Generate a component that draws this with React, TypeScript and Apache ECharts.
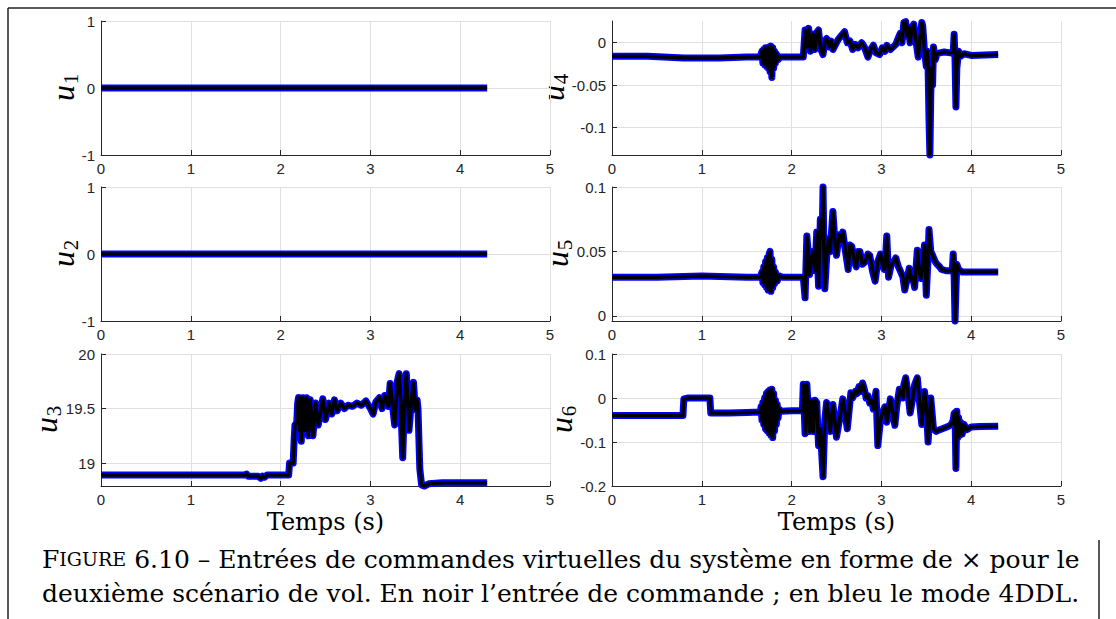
import React, { useEffect, useRef } from 'react';
import * as echarts from 'echarts';

const u1Data: number[][] = [[0, 0], [4.3, 0]];
const u2Data: number[][] = [[0, 0], [4.3, 0]];

const u3Data: number[][] = [
  [0, 18.89], [0.5, 18.89], [1.0, 18.89], [1.6, 18.89], [1.62, 18.9], [1.64, 18.88], [1.75, 18.88], [1.78, 18.86],
  [1.8, 18.88], [1.82, 18.87], [1.85, 18.89], [2.09, 18.89], [2.1, 19.0], [2.14, 19.0], [2.15, 19.2], [2.16, 19.35],
  [2.18, 19.37], [2.19, 19.55], [2.2, 19.6], [2.21, 19.3], [2.22, 19.6], [2.23, 19.2], [2.25, 19.6], [2.27, 19.3],
  [2.29, 19.6], [2.31, 19.25], [2.33, 19.58], [2.36, 19.25], [2.39, 19.55], [2.42, 19.35], [2.47, 19.59], [2.5, 19.4],
  [2.54, 19.55], [2.57, 19.45], [2.6, 19.58], [2.63, 19.48], [2.67, 19.55], [2.71, 19.5], [2.75, 19.53], [2.8, 19.52],
  [2.85, 19.55], [2.9, 19.53], [2.95, 19.57], [3.0, 19.5], [3.03, 19.45], [3.06, 19.56], [3.1, 19.6], [3.13, 19.5],
  [3.16, 19.62], [3.2, 19.52], [3.22, 19.73], [3.25, 19.5], [3.27, 19.35], [3.3, 19.75], [3.32, 19.82], [3.34, 19.5],
  [3.36, 19.05], [3.38, 19.6], [3.4, 19.82], [3.42, 19.5], [3.43, 19.3], [3.46, 19.6], [3.48, 19.74], [3.5, 19.49],
  [3.52, 19.58], [3.53, 19.5], [3.55, 18.95], [3.57, 18.8], [3.6, 18.79], [3.65, 18.81], [3.8, 18.82], [4.3, 18.82],
];

const u4Data: number[][] = [
  [0, -0.016], [0.4, -0.016], [0.8, -0.018], [1.2, -0.018], [1.5, -0.017], [1.65, -0.017],
  [1.67, -0.01], [1.68, -0.024], [1.69, -0.008], [1.7, -0.026], [1.71, -0.006], [1.72, -0.028], [1.73, -0.006],
  [1.74, -0.03], [1.75, -0.005], [1.76, -0.034], [1.77, -0.004], [1.78, -0.041], [1.79, -0.006], [1.8, -0.03],
  [1.81, -0.01], [1.82, -0.024], [1.83, -0.013], [1.85, -0.02], [1.87, -0.017], [2.13, -0.017],
  [2.15, 0.015], [2.17, -0.005], [2.19, 0.017], [2.21, -0.01], [2.24, 0.01], [2.26, -0.008], [2.28, 0.012],
  [2.3, 0.015], [2.32, -0.006], [2.35, -0.014], [2.37, 0.002], [2.39, 0.005], [2.42, -0.005], [2.44, 0.002],
  [2.46, -0.008], [2.49, -0.002], [2.52, 0.004], [2.55, 0.008], [2.59, 0.013], [2.62, 0.0], [2.65, 0.002],
  [2.68, -0.008], [2.71, -0.002], [2.74, -0.006], [2.78, 0.0], [2.81, -0.005], [2.85, -0.017], [2.88, -0.008],
  [2.91, -0.003], [2.94, -0.012], [2.98, -0.014], [3.01, -0.006], [3.04, -0.01], [3.06, -0.003], [3.1, -0.008],
  [3.13, -0.005], [3.16, -0.002], [3.19, 0.006], [3.21, 0.011], [3.23, 0.0], [3.25, 0.024], [3.27, 0.025],
  [3.29, 0.008], [3.3, 0.018], [3.32, 0.0], [3.34, 0.018], [3.36, 0.022], [3.38, 0.006], [3.41, -0.017],
  [3.43, 0.005], [3.45, 0.024], [3.46, 0.02], [3.48, -0.01], [3.5, -0.028], [3.51, -0.01], [3.52, -0.03],
  [3.53, -0.09], [3.54, -0.1327], [3.55, -0.06], [3.56, -0.03], [3.57, -0.05], [3.58, -0.005], [3.6, -0.02],
  [3.62, -0.013], [3.65, -0.012], [3.7, -0.011], [3.77, -0.012], [3.8, -0.011], [3.81, 0.01], [3.82, -0.02],
  [3.83, -0.076], [3.84, -0.03], [3.86, -0.01], [3.88, -0.016], [3.92, -0.013], [4.0, -0.015], [4.3, -0.014],
];

const u5Data: number[][] = [
  [0, 0.03], [0.5, 0.03], [1.0, 0.031], [1.5, 0.03], [1.65, 0.03], [1.67, 0.034], [1.68, 0.026], [1.69, 0.038],
  [1.7, 0.024], [1.71, 0.042], [1.72, 0.022], [1.73, 0.045], [1.74, 0.02], [1.75, 0.048], [1.76, 0.05], [1.77, 0.019],
  [1.78, 0.044], [1.79, 0.022], [1.8, 0.038], [1.81, 0.025], [1.82, 0.034], [1.84, 0.027], [1.86, 0.031], [1.9, 0.03],
  [2.13, 0.03], [2.15, 0.014], [2.17, 0.062], [2.19, 0.045], [2.2, 0.032], [2.22, 0.044], [2.24, 0.05], [2.26, 0.035],
  [2.28, 0.065], [2.3, 0.023], [2.32, 0.075], [2.34, 0.06], [2.35, 0.1], [2.36, 0.05], [2.37, 0.021], [2.39, 0.045],
  [2.41, 0.06], [2.43, 0.05], [2.46, 0.081], [2.48, 0.06], [2.5, 0.047], [2.53, 0.063], [2.55, 0.058], [2.57, 0.065],
  [2.6, 0.05], [2.63, 0.036], [2.65, 0.055], [2.67, 0.054], [2.7, 0.042], [2.72, 0.038], [2.74, 0.05], [2.76, 0.05],
  [2.79, 0.04], [2.82, 0.042], [2.85, 0.048], [2.87, 0.047], [2.9, 0.035], [2.93, 0.027], [2.96, 0.042], [2.99, 0.048],
  [3.01, 0.04], [3.03, 0.036], [3.05, 0.05], [3.06, 0.062], [3.08, 0.03], [3.11, 0.04], [3.14, 0.042], [3.16, 0.045],
  [3.19, 0.038], [3.21, 0.035], [3.24, 0.03], [3.26, 0.02], [3.29, 0.03], [3.31, 0.037], [3.33, 0.028], [3.35, 0.03],
  [3.37, 0.022], [3.4, 0.051], [3.42, 0.035], [3.44, 0.029], [3.46, 0.04], [3.48, 0.055], [3.5, 0.016], [3.52, 0.045],
  [3.53, 0.067], [3.55, 0.05], [3.57, 0.047], [3.6, 0.042], [3.62, 0.04], [3.65, 0.038], [3.67, 0.036], [3.72, 0.035],
  [3.77, 0.035], [3.79, 0.036], [3.8, 0.048], [3.81, 0.03], [3.82, -0.004], [3.83, 0.02], [3.84, 0.04], [3.86, 0.036],
  [3.9, 0.034], [4.0, 0.034], [4.3, 0.034],
];

const u6Data: number[][] = [
  [0, -0.04], [0.4, -0.04], [0.79, -0.04], [0.8, -0.002], [0.85, 0.0], [1.0, 0.0], [1.09, 0.0], [1.1, -0.034],
  [1.3, -0.034], [1.5, -0.033], [1.65, -0.032], [1.66, -0.02], [1.67, -0.05], [1.68, -0.01], [1.69, -0.06], [1.7, 0.0],
  [1.71, -0.07], [1.72, 0.01], [1.73, -0.075], [1.74, 0.015], [1.75, -0.08], [1.76, 0.018], [1.77, -0.085], [1.78, 0.02],
  [1.79, -0.09], [1.8, 0.01], [1.81, -0.075], [1.82, -0.005], [1.83, -0.06], [1.84, -0.015], [1.85, -0.045], [1.86, -0.025],
  [1.88, -0.03], [2.0, -0.029], [2.12, -0.029], [2.13, 0.031], [2.15, -0.081], [2.17, 0.031], [2.2, -0.076], [2.22, -0.007],
  [2.24, -0.076], [2.26, -0.005], [2.28, -0.01], [2.3, -0.108], [2.32, -0.07], [2.35, -0.179], [2.37, -0.05], [2.39, -0.01],
  [2.41, -0.04], [2.43, -0.076], [2.46, -0.015], [2.48, -0.05], [2.5, -0.089], [2.54, -0.042], [2.57, -0.002], [2.6, -0.04],
  [2.62, -0.07], [2.64, -0.03], [2.66, 0.012], [2.68, 0.0], [2.71, 0.015], [2.73, 0.01], [2.75, 0.026], [2.77, 0.015],
  [2.79, 0.034], [2.81, 0.02], [2.83, 0.0], [2.85, 0.005], [2.87, -0.012], [2.89, -0.005], [2.91, -0.025], [2.94, 0.015],
  [2.96, -0.108], [2.99, -0.05], [3.02, -0.029], [3.04, -0.02], [3.06, -0.055], [3.08, -0.03], [3.1, -0.002], [3.12, -0.03],
  [3.15, -0.062], [3.17, -0.02], [3.2, 0.02], [3.22, 0.01], [3.24, 0.0], [3.25, 0.03], [3.27, 0.046], [3.29, 0.02],
  [3.32, -0.034], [3.35, 0.0], [3.37, 0.03], [3.4, 0.046], [3.42, 0.0], [3.45, -0.06], [3.48, 0.015], [3.5, -0.02],
  [3.52, -0.1], [3.55, 0.0], [3.58, -0.07], [3.61, -0.076], [3.65, -0.072], [3.7, -0.068], [3.75, -0.064], [3.78, -0.06],
  [3.8, -0.05], [3.81, -0.035], [3.82, -0.033], [3.83, -0.16], [3.84, -0.03], [3.85, -0.09], [3.86, -0.045], [3.87, -0.085],
  [3.88, -0.055], [3.9, -0.082], [3.92, -0.06], [3.95, -0.072], [4.0, -0.066], [4.1, -0.065], [4.3, -0.064],
];

const seriesData = [u1Data, u4Data, u2Data, u5Data, u3Data, u6Data];
const yMins = [-1, -0.1327, -1, -0.004, 18.79, -0.2];
const yMaxs = [1, 0.0257, 1, 0.1, 20, 0.1];
const yTicks = [[-1, 0, 1], [-0.1, -0.05, 0], [-1, 0, 1], [0, 0.05, 0.1], [19, 19.5, 20], [-0.2, -0.1, 0, 0.1]];
const ySubscripts = ['1', '4', '2', '5', '3', '6'];
const xTicksMin = 0;
const xTicksMax = 5;
const xTickStep = 1;
const xTitle = 'Temps (s)';
const captionLine1 = ' 6.10 – Entrées de commandes virtuelles du système en forme de × pour le';
const captionLine2 = 'deuxième scénario de vol. En noir l’entrée de commande ; en bleu le mode 4DDL.';

const INK = '#262626';

export default function App() {
  const ref = useRef<HTMLDivElement>(null);
  useEffect(() => {
    if (!ref.current) return;
    const chart = echarts.init(ref.current, undefined, { renderer: 'svg' });
    const colLeft = [101, 612];
    const rowTop = [21, 187, 354];
    const rowH = [134, 134, 132];
    const labelX = [63, 553, 63, 557, 46, 561];
    const W = 449;
    const grids: any[] = [];
    const xAxes: any[] = [];
    const yAxes: any[] = [];
    const series: any[] = [];
    const graphics: any[] = [];
    for (let i = 0; i < 6; i++) {
      const r = Math.floor(i / 2);
      const c = i % 2;
      grids.push({ left: colLeft[c], top: rowTop[r], width: W, height: rowH[r] });
      xAxes.push({
        type: 'value', gridIndex: i, min: xTicksMin, max: xTicksMax, interval: xTickStep,
        axisLine: { show: true, onZero: false, lineStyle: { color: INK, width: 1 } },
        axisTick: { show: true, inside: true, length: 5, lineStyle: { color: INK } },
        axisLabel: { color: INK, fontSize: 15, fontFamily: 'Liberation Sans, Arial, sans-serif', margin: 6 },
        splitLine: { show: true, lineStyle: { color: '#e0e0e0', width: 1 } },
      });
      yAxes.push({
        type: 'value', gridIndex: i, min: yMins[i], max: yMaxs[i],
        axisLine: { show: true, onZero: false, lineStyle: { color: INK, width: 1 } },
        axisTick: { show: true, inside: true, length: 5, lineStyle: { color: INK }, customValues: yTicks[i] },
        axisLabel: { color: INK, fontSize: 15, fontFamily: 'Liberation Sans, Arial, sans-serif', margin: 6, customValues: yTicks[i] },
        splitLine: { show: true, lineStyle: { color: '#e0e0e0', width: 1 } },
      });
      series.push({
        type: 'line', xAxisIndex: i, yAxisIndex: i, data: seriesData[i], showSymbol: false, symbol: 'none',
        clip: false, silent: true,
        lineStyle: { color: '#0000ff', width: 7, join: 'round', cap: 'butt' },
      });
      series.push({
        type: 'line', xAxisIndex: i, yAxisIndex: i, data: seriesData[i], showSymbol: false, symbol: 'none',
        clip: false, silent: true,
        lineStyle: { color: '#000000', width: 3.5, join: 'round', cap: 'butt' },
      });
      const cy = rowTop[r] + rowH[r] / 2;
      const cx = labelX[i];
      graphics.push({
        type: 'text', x: cx, y: cy + 5, rotation: Math.PI / 2,
        style: { text: 'u', font: 'italic 32px "Liberation Serif", serif', fill: '#000', align: 'center', verticalAlign: 'middle' },
      });
      graphics.push({
        type: 'text', x: cx + 8, y: cy - 9, rotation: Math.PI / 2,
        style: { text: ySubscripts[i], font: '21px "Liberation Serif", serif', fill: '#000', align: 'center', verticalAlign: 'middle' },
      });
    }
    graphics.push({ type: 'line', shape: { x1: 8, y1: 8, x2: 1116, y2: 8 }, style: { stroke: '#222', lineWidth: 1.5 } });
    graphics.push({ type: 'line', shape: { x1: 8, y1: 8, x2: 8, y2: 619 }, style: { stroke: '#222', lineWidth: 1.5 } });
    graphics.push({ type: 'line', shape: { x1: 1099, y1: 540, x2: 1099, y2: 619 }, style: { stroke: '#222', lineWidth: 1.5 } });
    graphics.push({ type: 'text', x: 325.5, y: 522, style: { text: xTitle, font: '24px "DejaVu Serif", serif', fill: '#000', align: 'center', verticalAlign: 'middle' } });
    graphics.push({ type: 'text', x: 836.5, y: 522, style: { text: xTitle, font: '24px "DejaVu Serif", serif', fill: '#000', align: 'center', verticalAlign: 'middle' } });
    graphics.push({
      type: 'text', x: 42, y: 559,
      style: {
        text: '{a|F}{b|IGURE}{a|' + captionLine1 + '}',
        rich: {
          a: { fontFamily: 'DejaVu Serif', fontSize: 25, fill: '#000' },
          b: { fontFamily: 'DejaVu Serif', fontSize: 19, fill: '#000' },
        },
        align: 'left', verticalAlign: 'middle',
      },
    });
    graphics.push({
      type: 'text', x: 42, y: 593,
      style: { text: captionLine2, font: '25px "DejaVu Serif", serif', fill: '#000', align: 'left', verticalAlign: 'middle' },
    });
    chart.setOption({
      animation: false,
      backgroundColor: '#ffffff',
      grid: grids,
      xAxis: xAxes,
      yAxis: yAxes,
      series,
      graphic: graphics,
    });
    return () => chart.dispose();
  }, []);
  return <div ref={ref} style={{ position: 'fixed', left: 0, top: 0, width: 1116, height: 619, background: '#fff' }} />;
}
